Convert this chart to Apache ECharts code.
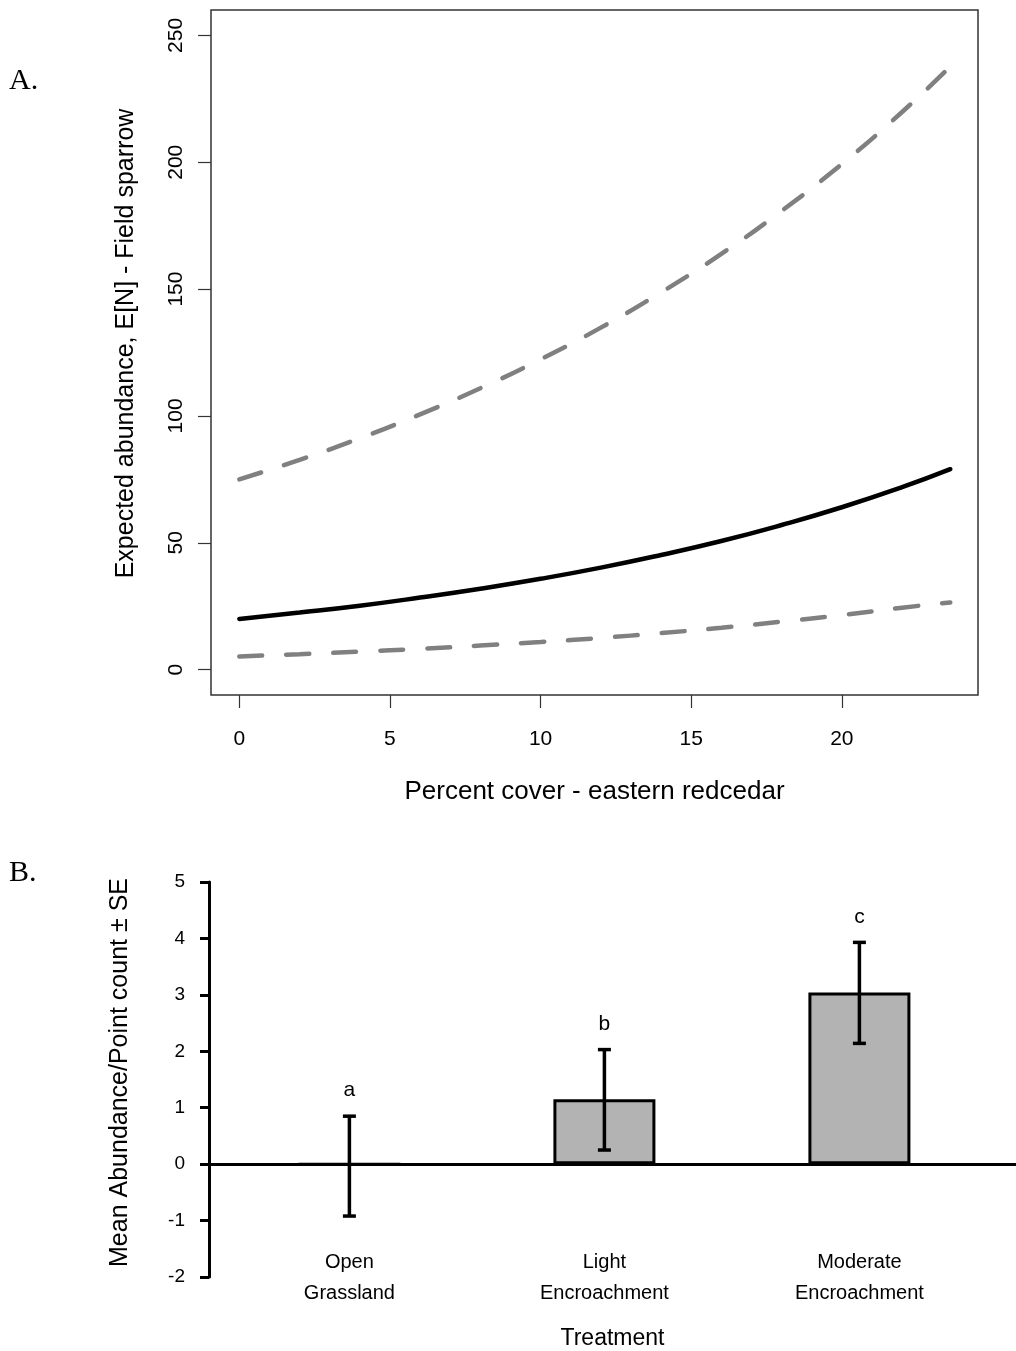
<!DOCTYPE html>
<html>
<head>
<meta charset="utf-8">
<script src="https://cdn.jsdelivr.net/npm/echarts@6/dist/echarts.min.js"></script>
<style>
  html, body { margin: 0; padding: 0; background: #fff; }
  #main { width: 1016px; height: 1351px; }
</style>
</head>
<body>
<div id="main"></div>
<script>
// panel A: expected abundance vs redcedar cover
var coverX = [0, 2, 4, 6, 8, 10, 12, 14, 16, 18, 20, 22, 23.6];
var fitMean = [20.0, 22.5, 25.2, 28.4, 31.9, 35.8, 40.2, 45.2, 50.7, 57.0, 64.0, 71.9, 79.0];
var fitUpper = [75.0, 82.7, 91.2, 100.6, 110.9, 122.3, 134.8, 148.7, 163.9, 180.8, 199.3, 219.8, 237.7];
var fitLower = [5.2, 6.1, 7.1, 8.2, 9.5, 10.9, 12.5, 14.4, 16.5, 18.9, 21.5, 24.4, 26.5];
var xTicksA = [0, 5, 10, 15, 20];
var yTicksA = [0, 50, 100, 150, 200, 250];

// panel B: mean abundance per treatment
var treatments = ['Open\nGrassland', 'Light\nEncroachment', 'Moderate\nEncroachment'];
var meanAbund = [0, 1.15, 3.04];
var seLow = [-0.92, 0.25, 2.14];
var seHigh = [0.85, 2.03, 3.93];
var letters = ['a', 'b', 'c'];

var sans = 'Liberation Sans, Arial, sans-serif';
var serif = 'Liberation Serif, Times New Roman, serif';

function pairs(xs, ys) {
    return xs.map(function (x, i) { return [x, ys[i]]; });
}

var chart = echarts.init(document.getElementById('main'));

var dashed = {color: '#808080', width: 4.5, type: [23, 24], cap: 'round'};

chart.setOption({
    animation: false,
    backgroundColor: '#fff',
    title: [
        {text: 'A.', left: 9, top: 66, padding: 0,
            textStyle: {fontFamily: serif, fontSize: 30, fontWeight: 'normal', color: '#000'}},
        {text: 'B.', left: 9, top: 858, padding: 0,
            textStyle: {fontFamily: serif, fontSize: 30, fontWeight: 'normal', color: '#000'}}
    ],
    grid: [
        {left: 211, top: 10, width: 767, height: 685, show: true, outerBoundsMode: 'none',
            borderColor: '#333', borderWidth: 1.5, backgroundColor: 'transparent'},
        {left: 209, top: 882, right: 0, height: 395, outerBoundsMode: 'none'}
    ],
    xAxis: [
        {
            gridIndex: 0, type: 'value', min: -0.94, max: 24.52,
            name: 'Percent cover - eastern redcedar', nameLocation: 'middle', nameGap: 84,
            nameTextStyle: {fontFamily: sans, fontSize: 26, color: '#000'},
            axisLine: {show: false, onZero: false},
            splitLine: {show: false},
            axisTick: {show: true, inside: false, length: 13, customValues: xTicksA,
                lineStyle: {color: '#333', width: 1.2}},
            axisLabel: {customValues: xTicksA, margin: 34, fontFamily: sans, fontSize: 21, color: '#000'}
        },
        {
            gridIndex: 1, type: 'value', min: -0.5506, max: 2.6141,
            name: 'Treatment', nameLocation: 'middle', nameGap: 50,
            nameTextStyle: {fontFamily: sans, fontSize: 23, color: '#000'},
            axisLine: {show: true, onZero: true, lineStyle: {color: '#000', width: 3}},
            splitLine: {show: false},
            axisTick: {show: false},
            axisLabel: {
                customValues: [0, 1, 2], margin: -30,
                fontFamily: sans, fontSize: 20, lineHeight: 31, color: '#000',
                formatter: function (v) { return treatments[Math.round(v)]; }
            }
        }
    ],
    yAxis: [
        {
            gridIndex: 0, type: 'value', min: -10, max: 260,
            name: 'Expected abundance, E[N] - Field sparrow', nameLocation: 'middle', nameGap: 72,
            nameTextStyle: {fontFamily: sans, fontSize: 25, color: '#000', padding: [0, 0, 0, 18]},
            axisLine: {show: false, onZero: false},
            splitLine: {show: false},
            axisTick: {show: true, inside: false, length: 13, customValues: yTicksA,
                lineStyle: {color: '#333', width: 1.2}},
            axisLabel: {customValues: yTicksA, rotate: 90, margin: 24,
                fontFamily: sans, fontSize: 21, color: '#000'}
        },
        {
            gridIndex: 1, type: 'value', min: -2, max: 5, interval: 1,
            name: 'Mean Abundance/Point count \u00b1 SE', nameLocation: 'middle', nameGap: 76,
            nameTextStyle: {fontFamily: sans, fontSize: 25, color: '#000', padding: [0, 0, 0, 14]},
            axisLine: {show: true, onZero: false, lineStyle: {color: '#000', width: 3}},
            splitLine: {show: false},
            axisTick: {show: true, length: 9, lineStyle: {color: '#000', width: 3}},
            axisLabel: {margin: 24, fontFamily: sans, fontSize: 19, color: '#000'}
        }
    ],
    series: [
        {
            type: 'line', xAxisIndex: 0, yAxisIndex: 0, smooth: true, showSymbol: false,
            data: pairs(coverX, fitUpper), lineStyle: dashed
        },
        {
            type: 'line', xAxisIndex: 0, yAxisIndex: 0, smooth: true, showSymbol: false,
            data: pairs(coverX, fitLower), lineStyle: dashed
        },
        {
            type: 'line', xAxisIndex: 0, yAxisIndex: 0, smooth: true, showSymbol: false,
            data: pairs(coverX, fitMean),
            lineStyle: {color: '#000', width: 4.5, cap: 'round'}
        },
        {
            type: 'bar', xAxisIndex: 1, yAxisIndex: 1, barWidth: 102,
            data: pairs([0, 1, 2], meanAbund),
            itemStyle: {color: '#b3b3b3', borderColor: '#000', borderWidth: 3}
        },
        {
            type: 'custom', xAxisIndex: 1, yAxisIndex: 1, z: 5,
            data: [0, 1, 2].map(function (i) { return [i, seLow[i], seHigh[i]]; }),
            renderItem: function (params, api) {
                var lo = api.coord([api.value(0), api.value(1)]);
                var hi = api.coord([api.value(0), api.value(2)]);
                var cap = 6.5;
                var ls = {stroke: '#000', lineWidth: 3.5};
                return {
                    type: 'group',
                    children: [
                        {type: 'line', shape: {x1: hi[0], y1: hi[1], x2: lo[0], y2: lo[1]}, style: ls},
                        {type: 'line', shape: {x1: hi[0] - cap, y1: hi[1], x2: hi[0] + cap, y2: hi[1]}, style: ls},
                        {type: 'line', shape: {x1: lo[0] - cap, y1: lo[1], x2: lo[0] + cap, y2: lo[1]}, style: ls},
                        {type: 'text', style: {
                            text: letters[params.dataIndex], x: hi[0], y: hi[1] - 15,
                            align: 'center', verticalAlign: 'bottom',
                            fontFamily: sans, fontSize: 21, fill: '#000'
                        }}
                    ]
                };
            }
        }
    ]
});
</script>
</body>
</html>
